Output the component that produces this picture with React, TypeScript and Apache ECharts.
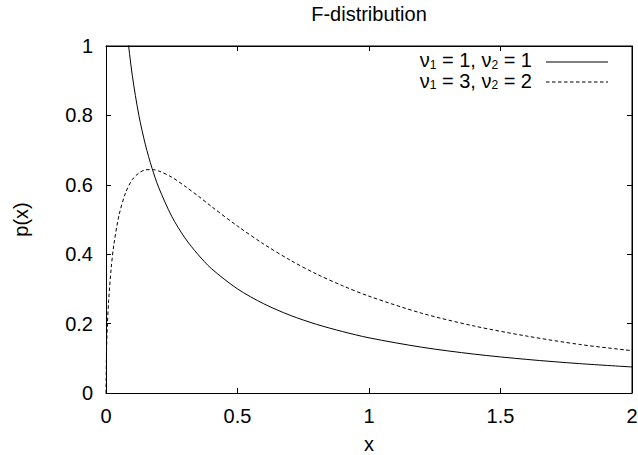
import React, { useEffect, useRef } from "react";
import * as echarts from "echarts";

const xs1 = [0.07, 0.08, 0.1, 0.125, 0.15, 0.175, 0.2, 0.25, 0.3, 0.35, 0.4, 0.5, 0.6, 0.7, 0.8, 0.9, 1.0, 1.2, 1.4, 1.6, 1.8, 2.0];
const ys1 = [1.13, 1.042, 0.915, 0.8, 0.715, 0.648, 0.593, 0.509, 0.447, 0.399, 0.359, 0.3, 0.257, 0.224, 0.198, 0.177, 0.159, 0.132, 0.112, 0.0968, 0.0847, 0.075];

const xs2 = [0, 0.002, 0.005, 0.01, 0.02, 0.03, 0.05, 0.075, 0.1, 0.125, 0.15, 0.175, 0.2, 0.25, 0.3, 0.35, 0.4, 0.5, 0.6, 0.7, 0.8, 0.9, 1.0, 1.2, 1.4, 1.6, 1.8, 2.0];
const ys2 = [0, 0.122, 0.191, 0.266, 0.362, 0.428, 0.514, 0.578, 0.615, 0.634, 0.643, 0.644, 0.64, 0.622, 0.596, 0.568, 0.538, 0.481, 0.429, 0.383, 0.343, 0.309, 0.279, 0.23, 0.193, 0.164, 0.14, 0.122];

const xTicks = ["0", "0.5", "1", "1.5", "2"];
const yTicks = ["0", "0.2", "0.4", "0.6", "0.8", "1"];
const legendNames = ["ν{s|1} = 1, ν{s|2} = 1", "ν{s|1} = 3, ν{s|2} = 2"];
const titleText = "F-distribution";

const FONT = "'Liberation Sans', Arial, sans-serif";
const FS = 20;
const DASH = [3.5, 2.5];
const G = { left: 106, top: 46, right: 6, bottom: 62 };
const W = 638;
const H = 455;

export default function App() {
  const ref = useRef<HTMLDivElement>(null);
  useEffect(() => {
    const chart = echarts.init(ref.current!, null, { renderer: "svg" });
    const axisCommon = {
      type: "value" as const,
      axisLine: { show: true, onZero: false, lineStyle: { color: "#000", width: 1 } },
      axisTick: { show: true, inside: true, length: 5, lineStyle: { color: "#000" } },
      splitLine: { show: false },
    };
    const fmtX = (v: number) => xTicks[Math.round(v / 0.5)] ?? String(v);
    const fmtY = (v: number) => yTicks[Math.round(v / 0.2)] ?? String(v);
    const sub = { fontSize: 12, fontFamily: FONT, padding: [9, 0, 0, 0] };
    const legendText = (i: number, y: number) => ({
      type: "text",
      x: 532, y,
      style: {
        text: legendNames[i],
        align: "right",
        verticalAlign: "middle",
        fontFamily: FONT,
        fontSize: FS,
        fill: "#000",
        rich: { s: sub },
      },
    });
    const L = G.left;
    const T = G.top;
    const R = W - G.right;
    const B = H - G.bottom;
    const frameLine = (x1: number, y1: number, x2: number, y2: number) => ({
      type: "line",
      shape: { x1, y1, x2, y2 },
      style: { stroke: "#000", lineWidth: 1 },
    });
    chart.setOption({
      animation: false,
      backgroundColor: "#fff",
      textStyle: { fontFamily: FONT },
      grid: {
        ...G,
        containLabel: false,
        outerBoundsMode: "none",
      },
      xAxis: [
        {
          ...axisCommon,
          min: 0, max: 2, interval: 0.5,
          position: "bottom",
          name: "x",
          nameLocation: "middle",
          nameGap: 41,
          nameTextStyle: { fontFamily: FONT, fontSize: FS, color: "#000" },
          axisLabel: { formatter: fmtX, fontFamily: FONT, fontSize: FS, color: "#000", margin: 13 },
        },
        {
          ...axisCommon,
          min: 0, max: 2, interval: 0.5,
          position: "top",
          axisLabel: { show: false },
        },
      ],
      yAxis: [
        {
          ...axisCommon,
          min: 0, max: 1, interval: 0.2,
          position: "left",
          name: "p(x)",
          nameLocation: "middle",
          nameGap: 75,
          nameRotate: 90,
          nameTextStyle: { fontFamily: FONT, fontSize: FS, color: "#000" },
          axisLabel: { formatter: fmtY, fontFamily: FONT, fontSize: FS, color: "#000", margin: 13 },
        },
        {
          ...axisCommon,
          min: 0, max: 1, interval: 0.2,
          position: "right",
          axisLabel: { show: false },
        },
      ],
      series: [
        {
          type: "line",
          data: xs1.map((x, i) => [x, ys1[i]]),
          showSymbol: false,
          smooth: 0.3,
          clip: true,
          lineStyle: { color: "#000", width: 1, type: "solid" },
        },
        {
          type: "line",
          data: xs2.map((x, i) => [x, ys2[i]]),
          showSymbol: false,
          smooth: 0.3,
          clip: true,
          lineStyle: { color: "#000", width: 1, type: DASH },
        },
        {
          type: "line",
          xAxisIndex: 1,
          yAxisIndex: 1,
          data: [],
          showSymbol: false,
        },
      ],
      graphic: [
        frameLine(L, T, R, T),
        frameLine(R, T, R, B),
        {
          type: "text",
          x: 369, y: 14,
          style: {
            text: titleText,
            align: "center",
            verticalAlign: "middle",
            fontFamily: FONT,
            fontSize: FS,
            fill: "#000",
          },
        },
        legendText(0, 60),
        legendText(1, 80.5),
        {
          type: "line",
          shape: { x1: 546, y1: 62, x2: 608, y2: 62 },
          style: { stroke: "#000", lineWidth: 1 },
        },
        {
          type: "line",
          shape: { x1: 546, y1: 82, x2: 608, y2: 82 },
          style: { stroke: "#000", lineWidth: 1, lineDash: DASH },
        },
      ],
    });
    return () => chart.dispose();
  }, []);
  return <div ref={ref} style={{ width: W, height: H, position: "absolute", left: 0, top: 0 }} />;
}
